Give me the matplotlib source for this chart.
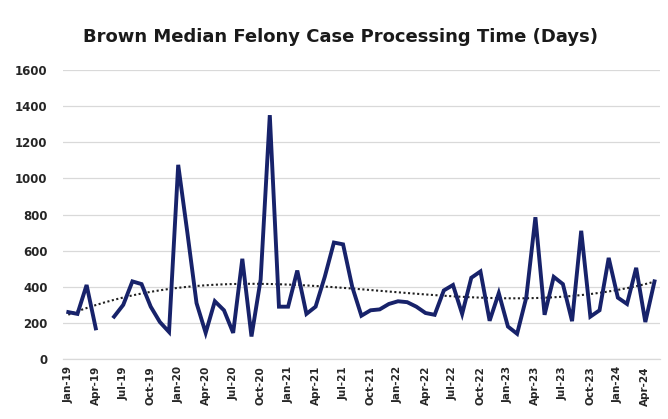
import numpy as np
import matplotlib
matplotlib.use("Agg")
import matplotlib.pyplot as plt

months = ["Jan-19","Feb-19","Mar-19","Apr-19","May-19","Jun-19","Jul-19","Aug-19","Sep-19","Oct-19","Nov-19","Dec-19",
          "Jan-20","Feb-20","Mar-20","Apr-20","May-20","Jun-20","Jul-20","Aug-20","Sep-20","Oct-20","Nov-20","Dec-20",
          "Jan-21","Feb-21","Mar-21","Apr-21","May-21","Jun-21","Jul-21","Aug-21","Sep-21","Oct-21","Nov-21","Dec-21",
          "Jan-22","Feb-22","Mar-22","Apr-22","May-22","Jun-22","Jul-22","Aug-22","Sep-22","Oct-22","Nov-22","Dec-22",
          "Jan-23","Feb-23","Mar-23","Apr-23","May-23","Jun-23","Jul-23","Aug-23","Sep-23","Oct-23","Nov-23","Dec-23",
          "Jan-24","Feb-24","Mar-24","Apr-24","May-24"]

days = [260, 250, 410, 170, np.nan, 235, 300, 430, 415, 290, 205, 150,
        1075, 700, 310, 145, 320, 270, 145, 555, 125, 440, 1350, 290,
        290, 490, 250, 290, 455, 645, 635, 400, 240, 270, 275, 305,
        320, 315, 290, 255, 245, 380, 410, 250, 450, 485, 212, 365,
        180, 140, 340, 785, 245, 455, 415, 210, 710, 235, 270, 560,
        340, 305, 505, 205, 430]

yticks = [0, 200, 400, 600, 800, 1000, 1200, 1400, 1600]
title = "Brown Median Felony Case Processing Time (Days)"

x = np.arange(len(months))
y = np.array(days, dtype=float)

fig = plt.figure(figsize=(6.68, 4.19), dpi=100)
ax = fig.add_axes([0.094, 0.143, 0.894, 0.690])

ax.set_ylim(0, 1600)
ax.set_xlim(-0.6, len(months) - 0.4)
ax.set_yticks(yticks)
ax.grid(axis="y", color="#d9d9d9", linewidth=0.9)
ax.set_axisbelow(True)
for s in ["top", "right", "left"]:
    ax.spines[s].set_visible(False)
ax.spines["bottom"].set_color("#d9d9d9")
ax.spines["bottom"].set_linewidth(0.9)

# polynomial (order 3) trendline fitted to the data
mask = ~np.isnan(y)
coef = np.polyfit(x[mask], y[mask], 3)
trend = np.polyval(coef, x)
ax.plot(x, trend, color="#202020", linestyle=(0, (1, 1.2)), linewidth=1.5, zorder=2)

ax.plot(x, y, color="#17226a", linewidth=2.8, solid_joinstyle="miter", zorder=3)

tick_idx = list(range(0, len(months), 3))
ax.set_xticks(tick_idx)
ax.set_xticklabels([months[i] for i in tick_idx], rotation=90, fontsize=7.5,
                   fontweight="bold", color="#262626")
ax.tick_params(axis="x", length=0, pad=5)
ax.tick_params(axis="y", length=0, pad=11, labelsize=8.5, labelcolor="#262626")
for t in ax.get_yticklabels():
    t.set_fontweight("bold")

fig.text(0.51, 0.912, title, ha="center", va="center", fontsize=13,
         fontweight="bold", color="#1a1a1a")

fig.savefig("out.png", dpi=100, facecolor="white")
